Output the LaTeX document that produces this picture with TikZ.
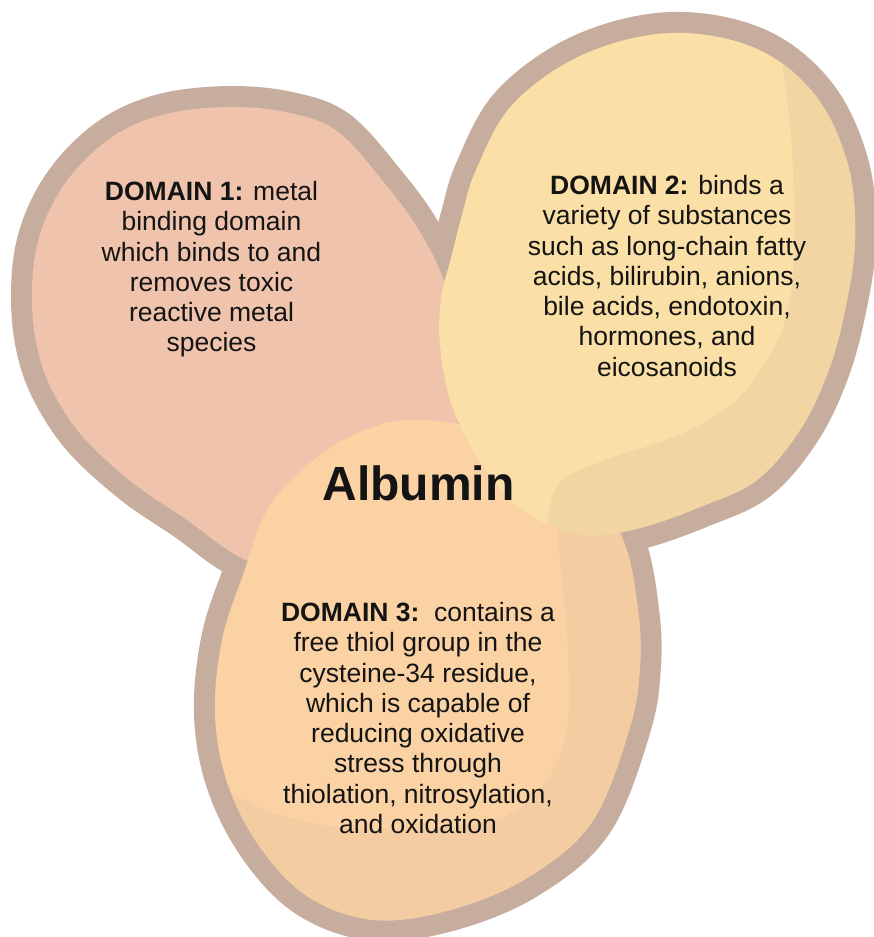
\documentclass[tikz,border=0pt]{standalone}
\usepackage{fontspec}
\setmainfont{Liberation Sans}
\definecolor{outline}{HTML}{C7AD9D}
\definecolor{pinkfill}{HTML}{EFC3AC}
\definecolor{yellowfill}{HTML}{FADFA6}
\definecolor{yellowshade}{HTML}{F1D6A3}
\definecolor{orangefill}{HTML}{FAD2A4}
\definecolor{orangeshade}{HTML}{F3CCA2}
\definecolor{textcol}{HTML}{141414}
\newcommand{\pinkblob}{plot[smooth cycle,tension=0.6] coordinates {(233,107) (290,113) (337,131) (382,180) (420,232) (447,290) (462,370) (445,460) (370,540) (290,572) (238,556) (187,520) (133,483) (83,437) (52,390) (37,347) (32,300) (36,250) (52,205) (80,165) (120,132) (170,113)}}
\newcommand{\yellowblob}{plot[smooth cycle,tension=0.6] coordinates {(670,33) (755,48) (815,95) (848,165) (855,240) (845,310) (828,372) (800,430) (757,480) (700,507) (640,528) (590,535) (550,525) (510,500) (473,450) (450,400) (440,345) (441,298) (451,258) (462,215) (476,170) (512,105) (582,55)}}
\newcommand{\orangeblob}{plot[smooth cycle,tension=0.6] coordinates {(410,420) (480,428) (545,455) (595,495) (625,545) (638,610) (640,665) (630,727) (592,822) (527,878) (450,910) (375,920) (310,898) (262,850) (228,785) (215,715) (222,640) (243,575) (270,505) (320,455) (365,430)}}
\tikzset{
  band/.style={draw=outline,line width=42pt,line join=round},
  domtext/.style={inner sep=0pt,align=center,text=textcol,font=\fontsize{26.5}{30.3}\selectfont,anchor=north},
  titletext/.style={inner sep=0pt,text=textcol,font=\fontsize{48}{50}\selectfont\bfseries,anchor=base}
}
\begin{document}
\begin{tikzpicture}[x=1pt,y=-1pt]
\useasboundingbox (0,0) rectangle (873,937);
% outline bands
\path[band] \pinkblob;
\path[band] \yellowblob;
\path[band] \orangeblob;
% fills
\path[fill=pinkfill] \pinkblob;
\path[fill=orangefill] \orangeblob;
\begin{scope}
  \clip \orangeblob;
  \path[fill=orangeshade] plot[smooth,tension=0.6] coordinates {(555,470) (560,560) (568,650) (565,740) (530,800) (470,825) (350,828) (270,812) (222,788)} -- (150,800) -- (150,960) -- (720,960) -- (720,470) -- cycle;
\end{scope}
\path[fill=yellowfill] \yellowblob;
\begin{scope}
  \clip \yellowblob;
  \path[fill=yellowshade] plot[smooth,tension=0.6] coordinates {(775,15) (792,150) (790,300) (750,385) (690,430) (600,462) (558,485) (546,530)} -- (546,600) -- (900,600) -- (900,0) -- (775,0) -- cycle;
\end{scope}
% texts
\node[domtext] (d1) at (211.5,181) {\textbf{DOMAIN 1:} metal\\binding domain\\which binds to and\\removes toxic\\reactive metal\\species};
\node[domtext] (d2) at (667,175) {\textbf{DOMAIN 2:} binds a\\variety of substances\\such as long-chain fatty\\acids, bilirubin, anions,\\bile acids, endotoxin,\\hormones, and\\eicosanoids};
\node[domtext] (d3) at (418,602) {\textbf{DOMAIN 3:}\ \ contains a\\free thiol group in the\\cysteine-34 residue,\\which is capable of\\reducing oxidative\\stress through\\thiolation, nitrosylation,\\and oxidation};
\node[titletext] (alb) at (418.5,500) {Albumin};
\end{tikzpicture}
\end{document}
